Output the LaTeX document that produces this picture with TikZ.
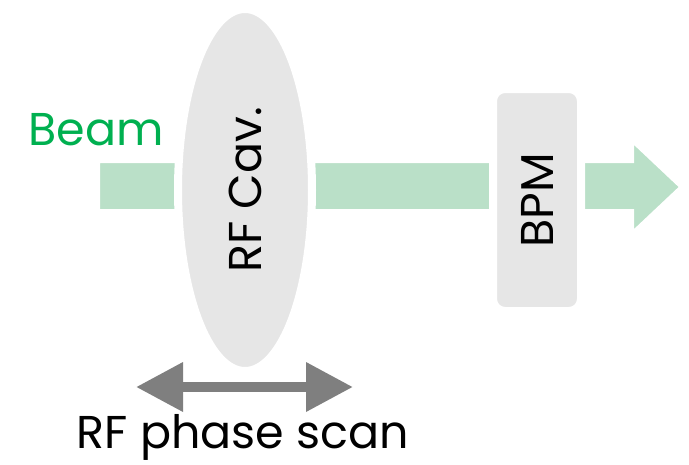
\documentclass[tikz,border=0pt]{standalone}
\usepackage{fontspec}
\setmainfont{Poppins}
\usetikzlibrary{shapes.geometric,arrows.meta}
\definecolor{beamgreen}{HTML}{BAE0C8}
\definecolor{textgreen}{HTML}{00B050}
\definecolor{boxgray}{HTML}{E6E6E6}
\definecolor{arrgray}{HTML}{7F7F7F}
\tikzset{
  lbl/.style={inner sep=0pt, font=\fontsize{46}{46}\selectfont},
  elem/.style={fill=boxgray, draw=white, line width=8pt},
}
\begin{document}
\begin{tikzpicture}[x=1pt,y=-1pt]
\useasboundingbox (0,0) rectangle (689,464);
% beam arrow
\fill[beamgreen, draw=white, line width=6pt, line join=miter]
  (97,160) -- (631,160) -- (631,138) -- (683,187) -- (631,236) -- (631,212) -- (97,212) -- cycle;
\node[lbl, text=textgreen] (beam) at (96,130) {Beam};
% RF cavity
\node[elem, ellipse, minimum width=134pt, minimum height=362pt, inner sep=0pt] (cav) at (245,190) {};
\node[lbl, rotate=90] (cavtext) at (cav.center) {RF Cav.};
% BPM
\node[elem, rectangle, rounded corners=12pt, minimum width=88pt, minimum height=222pt] (bpm) at (537,200) {};
\node[lbl, rotate=90] (bpmtext) at (bpm.center) {BPM};
% phase scan arrow
\coordinate (L) at (136,387);
\coordinate (R) at (353,387);
\draw[arrgray, line width=10pt, {Triangle[length=47pt,width=47pt]}-{Triangle[length=47pt,width=47pt]}] (L) -- (R);
\node[lbl] (scan) at (243,437) {RF phase scan};
\end{tikzpicture}
\end{document}
